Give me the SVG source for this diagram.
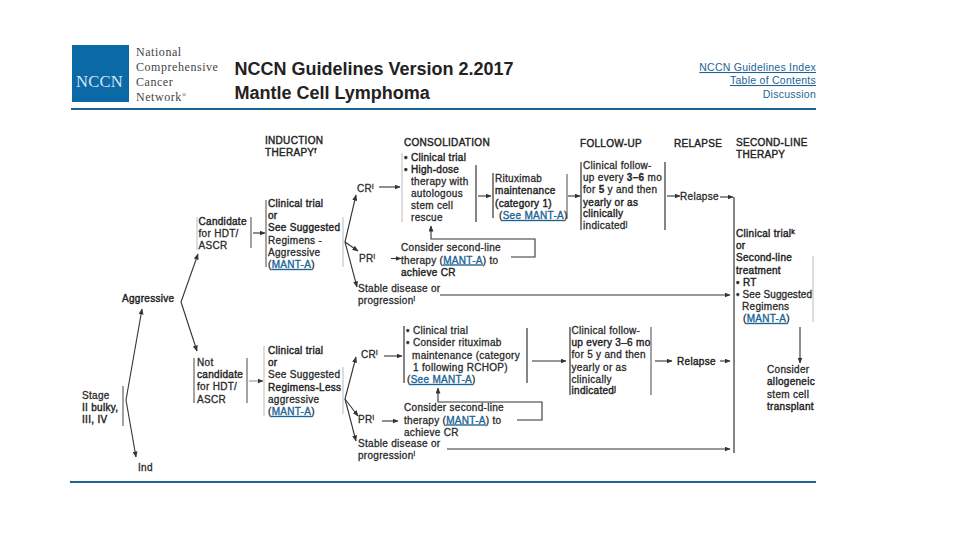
<svg xmlns="http://www.w3.org/2000/svg" width="960" height="540" viewBox="0 0 960 540">
<style>
text{font-family:"Liberation Sans",Arial,sans-serif}
.t{font-size:10px;letter-spacing:.3px;fill:#2a2a2a;stroke:#2a2a2a;stroke-width:.3}
.b{font-size:10px;letter-spacing:.3px;fill:#222;stroke:#222;stroke-width:.4}
.n{letter-spacing:.1px}
.l{fill:#1b6496;stroke:#1b6496;stroke-width:.35;text-decoration:underline}
.s{font-size:7px}
.title{font-size:18px;font-weight:bold;fill:#222}
.logo{font-family:"Liberation Serif",serif;font-size:12px;fill:#444;letter-spacing:.55px}
.logotype{font-family:"Liberation Serif",serif;font-size:16.500px;fill:#d5e6f2;letter-spacing:.3px}
.nav{font-size:10.500px;fill:#1b6496;text-anchor:end;letter-spacing:.25px;text-decoration:underline}
.d{stroke:#333;stroke-width:1.2;fill:none}
.g{stroke:#bbb;stroke-width:1;fill:none}
.m{stroke:#666;stroke-width:1.2;fill:none}
.a{stroke:#333;stroke-width:1.1;fill:none;marker-end:url(#h)}
.ag{stroke:#888;stroke-width:1;fill:none;marker-end:url(#h)}
.r{stroke:#1b6496;stroke-width:2;fill:none}
</style>
<defs>
<marker id="h" markerUnits="userSpaceOnUse" markerWidth="6" markerHeight="5" refX="5.500" refY="2.500" orient="auto"><path d="M0 0L6 2.500L0 5Z" fill="#333"/></marker>
</defs>
<rect width="960" height="540" fill="#fff"/>
<g id="header">
<rect x="72" y="45" width="57" height="57" fill="#0b6aa6"/>
<text class="logotype" x="76" y="87">NCCN</text>
<text class="logo" x="136" y="56">National</text>
<text class="logo" x="136" y="71">Comprehensive</text>
<text class="logo" x="136" y="86">Cancer</text>
<text class="logo" x="136" y="101">Network<tspan font-size="6" dy="-4">®</tspan></text>
<text class="title" x="234.500" y="75">NCCN Guidelines Version 2.2017</text>
<text class="title" x="234.500" y="99">Mantle Cell Lymphoma</text>
<text class="nav" x="816" y="71">NCCN Guidelines Index</text>
<text class="nav" x="816" y="84">Table of Contents</text>
<text class="nav" x="816" y="98" style="text-decoration:none">Discussion</text>
<path class="r" d="M71 109H816"/>
<path class="r" d="M70 482H816"/>
</g>
<g id="connectors">
<path class="m" d="M123 386V426"/>
<path class="a" d="M126 400L142 309"/>
<path class="a" d="M126 400L136 457"/>
<path class="a" d="M181 302L198 254"/>
<path class="a" d="M181 302L197 351"/>
<path class="a" d="M253 233H265"/>
<path class="ag" d="M249 381H263"/>
<path class="a" d="M345 242L356 195"/>
<path class="a" d="M345 242L358 251"/>
<path class="a" d="M345 242L357 287"/>
<path class="a" d="M345 399L356 357"/>
<path class="a" d="M345 399L358 416"/>
<path class="a" d="M345 399L356 441"/>
<path class="a" d="M379 187H400"/>
<path class="a" d="M391 258.500H401"/>
<path class="a" d="M478 196H491"/>
<path class="a" d="M568 196H580"/>
<path class="a" d="M667 196H680"/>
<path class="a" d="M720 197H733"/>
<path class="a" d="M511 257H535V239H431V226"/>
<path class="a" d="M440 295H730"/>
<path class="d" d="M734 197V453"/>
<path class="a" d="M800 327V363"/>
<path class="a" d="M384 356H402"/>
<path class="a" d="M382 421H398"/>
<path class="a" d="M532 361H566"/>
<path class="a" d="M655 361H672"/>
<path class="a" d="M720 361H730"/>
<path class="a" d="M517 420H542V402H438V388"/>
<path class="a" d="M447 449H730"/>
</g>
<g id="col-headers">
<text class="b" x="265" y="144">INDUCTION</text>
<text class="b" x="265" y="156">THERAPY<tspan class="s" dy="-3">f</tspan></text>
<text class="b" x="404" y="146">CONSOLIDATION</text>
<text class="b" x="580" y="147">FOLLOW-UP</text>
<text class="b" x="674" y="147">RELAPSE</text>
<text class="b" x="736" y="146">SECOND-LINE</text>
<text class="b" x="736" y="158">THERAPY</text>
</g>
<g id="stage">
<text class="t" x="82" y="399">Stage</text>
<text class="b" x="82" y="411">II bulky,</text>
<text class="b" x="82" y="423">III, IV</text>
</g>
<g id="aggressive"><text class="b" x="122" y="302">Aggressive</text></g>
<g id="ind"><text class="t" x="138" y="471">Ind</text></g>
<g id="candidate">
<path class="g" d="M197 217V250"/><path class="m" d="M251 217V248"/>
<text class="b" x="198.500" y="225">Candidate</text>
<text class="t" x="198.500" y="237">for HDT/</text>
<text class="t" x="198.500" y="249">ASCR</text>
</g>
<g id="not-candidate">
<path class="m" d="M194 358V403"/><path class="m" d="M247 358V403"/>
<text class="t" x="197" y="366">Not</text>
<text class="b" x="197" y="378">candidate</text>
<text class="t" x="197" y="390">for HDT/</text>
<text class="t" x="197" y="403">ASCR</text>
</g>
<g id="induction-a">
<path class="m" d="M266 200V267"/><path class="g" d="M343 217V267"/>
<text class="b" x="268" y="207">Clinical trial</text>
<text class="b" x="268" y="219">or</text>
<text class="b" x="268" y="231">See Suggested</text>
<text class="t" x="268" y="244">Regimens -</text>
<text class="t" x="268" y="256">Aggressive</text>
<text class="t" x="268" y="268">(<tspan class="l">MANT-A</tspan>)</text>
</g>
<g id="induction-b">
<path class="g" d="M264 346V416"/><path class="g" d="M343 367V414"/>
<text class="b" x="268" y="354">Clinical trial</text>
<text class="b" x="268" y="366">or</text>
<text class="t" x="268" y="378">See Suggested</text>
<text class="b" x="268" y="390.500">Regimens-Less</text>
<text class="t" x="268" y="403">aggressive</text>
<text class="t" x="268" y="415">(<tspan class="l">MANT-A</tspan>)</text>
</g>
<g id="cr-a"><text class="t" x="357" y="192">CR<tspan class="s" dy="-3">i</tspan></text></g>
<g id="pr-a"><text class="t" x="359" y="262">PR<tspan class="s" dy="-3">i</tspan></text></g>
<g id="stable-a">
<text class="t" x="358" y="292">Stable disease or</text>
<text class="t" x="358" y="304">progression<tspan class="s" dy="-3">i</tspan></text>
</g>
<g id="cr-b"><text class="t" x="361" y="358">CR<tspan class="s" dy="-3">i</tspan></text></g>
<g id="pr-b"><text class="t" x="358" y="423">PR<tspan class="s" dy="-3">i</tspan></text></g>
<g id="stable-b">
<text class="t" x="358" y="447">Stable disease or</text>
<text class="t" x="358" y="459">progression<tspan class="s" dy="-3">i</tspan></text>
</g>
<g id="consolidation-a">
<path class="g" d="M402 153V222"/><path class="d" d="M476 165V222"/>
<text class="b" x="404" y="161">• Clinical trial</text>
<text class="b" x="404" y="173">• High-dose</text>
<text class="t" x="411" y="185">therapy with</text>
<text class="t" x="411" y="197">autologous</text>
<text class="t" x="411" y="209">stem cell</text>
<text class="t" x="411" y="221">rescue</text>
</g>
<g id="rituximab">
<path class="d" d="M493 173V218"/><path class="m" d="M567 174V219"/>
<text class="t" x="495" y="182">Rituximab</text>
<text class="b" x="495" y="194">maintenance</text>
<text class="b" x="495" y="206.500">(category 1)</text>
<text class="t" x="499" y="219">(<tspan class="l">See MANT-A</tspan>)</text>
</g>
<g id="followup-a">
<path class="d" d="M581 162V230"/><path class="d" d="M665 162V230"/>
<text class="t" x="583" y="169">Clinical follow-</text>
<text class="t" x="583" y="181">up every <tspan font-weight="bold">3–6</tspan> mo</text>
<text class="t" x="583" y="193">for <tspan font-weight="bold">5</tspan> y and then</text>
<text class="b" x="583" y="205.500">yearly or as</text>
<text class="b" x="583" y="217">clinically</text>
<text class="t" x="583" y="229">indicated<tspan class="s" dy="-3">j</tspan></text>
</g>
<g id="relapse-a"><text class="t" x="680" y="200">Relapse</text></g>
<g id="second-line-a">
<text class="t" x="401" y="251">Consider second-line</text>
<text class="t" x="401" y="263.500">therapy (<tspan class="l">MANT-A</tspan>) to</text>
<text class="b" x="401" y="276">achieve CR</text>
</g>
<g id="second-line-therapy">
<path class="g" d="M813 256V322"/>
<text class="b" x="736" y="237">Clinical trial<tspan class="s" dy="-3">k</tspan></text>
<text class="b" x="736" y="249">or</text>
<text class="b" x="736" y="261">Second-line</text>
<text class="b" x="736" y="273.500">treatment</text>
<text class="b" x="736" y="285.500">• RT</text>
<text class="t n" x="736" y="298">• See Suggested</text>
<text class="t" x="742" y="310">Regimens</text>
<text class="t" x="743" y="322">(<tspan class="l">MANT-A</tspan>)</text>
</g>
<g id="allogeneic">
<text class="t" x="767" y="373">Consider</text>
<text class="b" x="767" y="385">allogeneic</text>
<text class="t" x="767" y="397.500">stem cell</text>
<text class="b" x="767" y="410">transplant</text>
</g>
<g id="consolidation-b">
<path class="d" d="M404 326V383"/><path class="d" d="M527 328V383"/>
<text class="t" x="406" y="334">• Clinical trial</text>
<text class="t" x="406" y="346">• Consider rituximab</text>
<text class="t" x="412" y="358.500">maintenance (category</text>
<text class="t" x="413" y="370.500">1 following RCHOP)</text>
<text class="t" x="407" y="383">(<tspan class="l">See MANT-A</tspan>)</text>
</g>
<g id="followup-b">
<path class="d" d="M570 327V395"/><path class="m" d="M651 327V395"/>
<text class="t" x="571.500" y="334">Clinical follow-</text>
<text class="b" x="571.500" y="346">up every 3–6 mo</text>
<text class="t" x="571.500" y="358">for 5 y and then</text>
<text class="t" x="571.500" y="370.500">yearly or as</text>
<text class="t" x="571.500" y="383">clinically</text>
<text class="b" x="571.500" y="394">indicated<tspan class="s" dy="-3">j</tspan></text>
</g>
<g id="relapse-b"><text class="b" x="677" y="365">Relapse</text></g>
<g id="second-line-b">
<text class="t" x="404" y="411">Consider second-line</text>
<text class="t" x="404" y="423.500">therapy (<tspan class="l">MANT-A</tspan>) to</text>
<text class="t" x="404" y="436">achieve CR</text>
</g>
</svg>
